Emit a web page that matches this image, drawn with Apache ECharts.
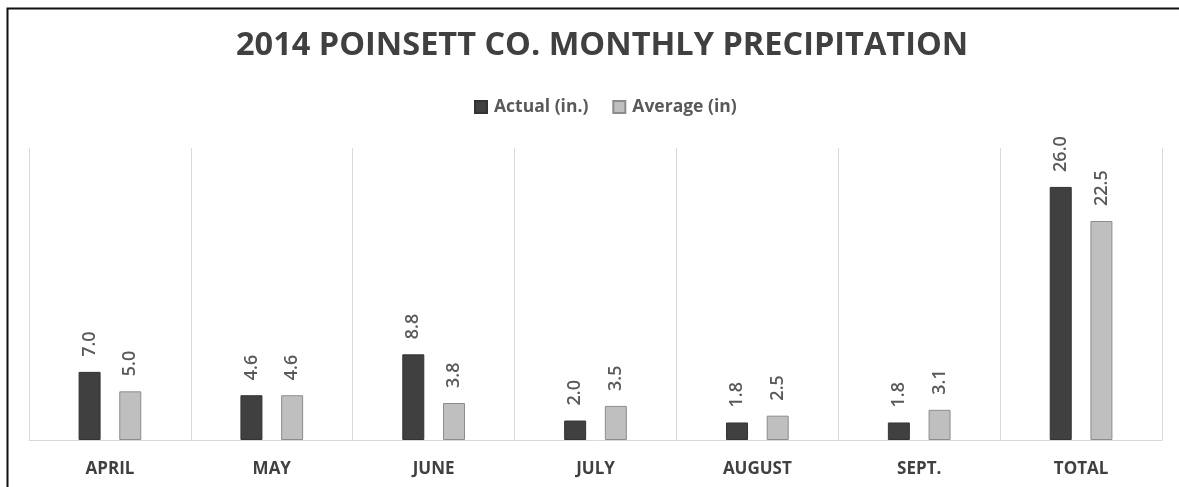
<!DOCTYPE html>
<html>
<head>
<meta charset="utf-8">
<script src="https://cdn.jsdelivr.net/npm/echarts@6/dist/echarts.min.js"></script>
<style>
  html, body { margin: 0; padding: 0; background: #fff; }
  #chart { width: 1179px; height: 487px; }
</style>
</head>
<body>
<div id="chart"></div>
<script>
// 月份
var months = ['APRIL', 'MAY', 'JUNE', 'JULY', 'AUGUST', 'SEPT.', 'TOTAL'];
// 实际降水
var actual = [7.0, 4.6, 8.8, 2.0, 1.8, 1.8, 26.0];
// 平均降水
var average = [5.0, 4.6, 3.8, 3.5, 2.5, 3.1, 22.5];

var font = 'Open Sans';

// 柱子上方的数值标签
function barLabel() {
   return {
      show: true,
      position: 'top',
      rotate: 90,
      align: 'left',
      verticalAlign: 'middle',
      distance: 15,
      formatter: function (p) { return p.value.toFixed(1); },
      fontFamily: font,
      fontSize: 18,
      fontWeight: 600,
      color: '#595959'
   };
}

var oChart = echarts.init(document.getElementById('chart'));
var opt = {
   backgroundColor: '#fff',
   animation: false,
   title: {
      text: '2014 POINSETT CO. MONTHLY PRECIPITATION',
      left: 231,
      top: 24,
      textStyle: {
         fontFamily: font,
         fontSize: 32.5,
         fontWeight: 'bold',
         color: '#404040'
      }
   },
   legend: {
      data: ['Actual (in.)', 'Average (in)'],
      top: 93,
      left: 469,
      itemWidth: 12,
      itemHeight: 12,
      itemGap: 24,
      icon: 'rect',
      textStyle: {
         fontFamily: font,
         fontSize: 17.5,
         fontWeight: 'bold',
         color: '#595959',
         padding: [0, 0, 0, 2]
      }
   },
   grid: {
      left: 29,
      right: 17,
      top: 148,
      bottom: 47
   },
   xAxis: {
      type: 'category',
      data: months,
      axisTick: { show: false },
      axisLine: { lineStyle: { color: '#d9d9d9', width: 1 } },
      splitLine: { show: true, interval: 0, lineStyle: { color: '#d9d9d9', width: 1 } },
      axisLabel: {
         margin: 21,
         fontFamily: font,
         fontSize: 17,
         fontWeight: 'bold',
         color: '#404040'
      }
   },
   yAxis: {
      type: 'value',
      min: 0,
      max: 30,
      show: false,
      splitLine: { show: false }
   },
   series: [{
      name: 'Actual (in.)',
      type: 'bar',
      barWidth: 22,
      barGap: '85%',
      data: actual,
      itemStyle: { color: '#404040', borderColor: '#333', borderWidth: 1 },
      label: barLabel()
   }, {
      name: 'Average (in)',
      type: 'bar',
      barWidth: 22,
      data: average,
      itemStyle: { color: '#bfbfbf', borderColor: '#8c8c8c', borderWidth: 1 },
      label: barLabel()
   }],
   graphic: [{
      type: 'polyline',
      shape: { points: [[7.5, 487], [7.5, 8.5], [1179, 8.5]] },
      style: { stroke: '#111', lineWidth: 2, fill: null },
      silent: true
   }]
};
oChart.setOption(opt);
</script>
</body>
</html>
